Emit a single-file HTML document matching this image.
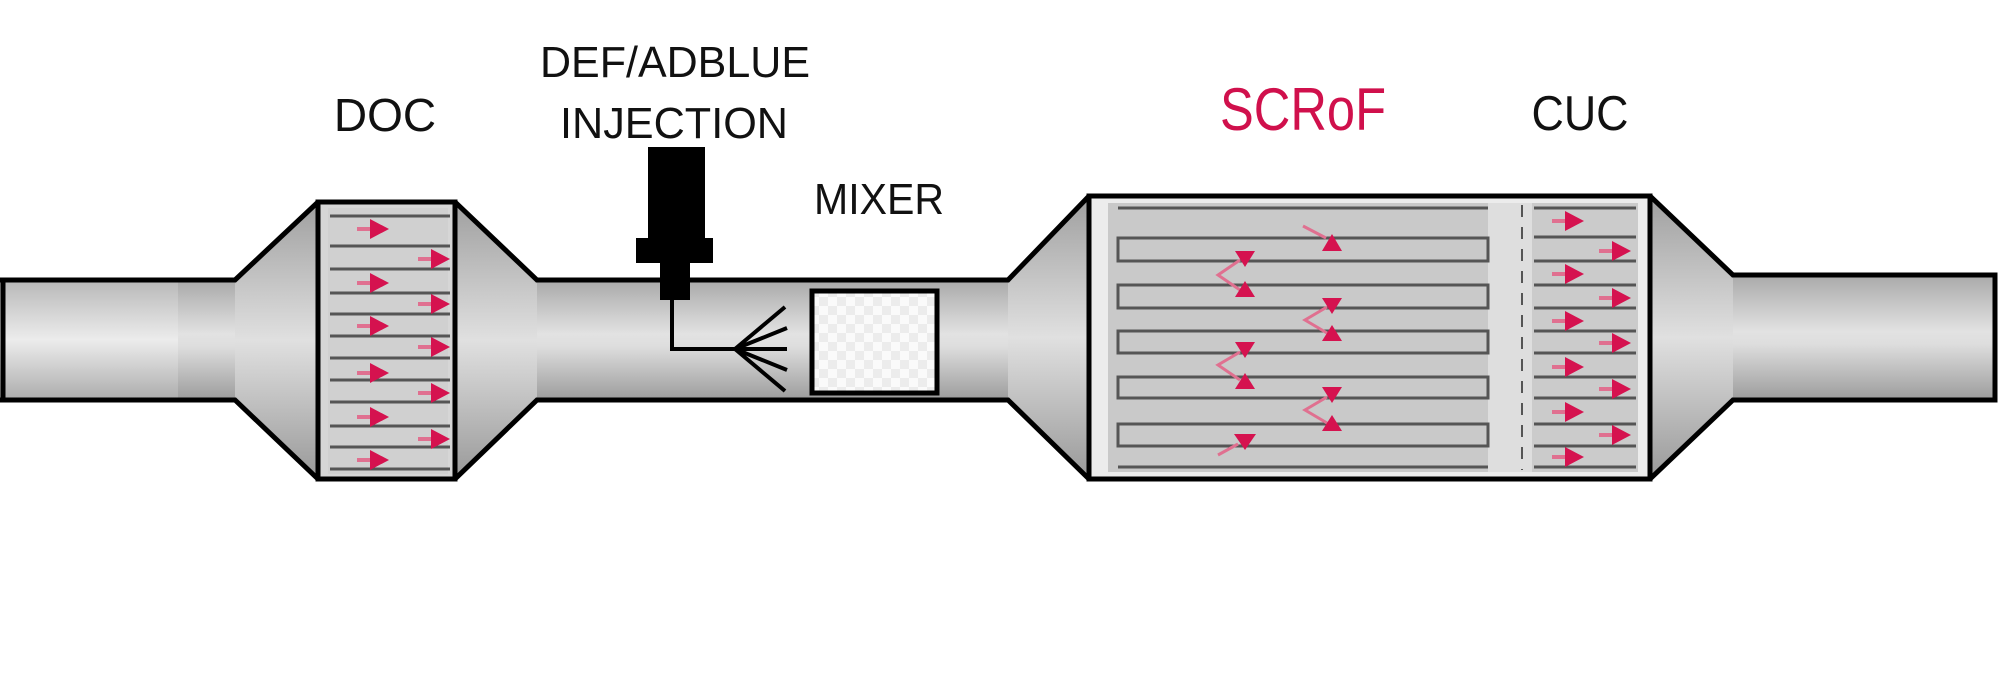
<!DOCTYPE html>
<html><head><meta charset="utf-8"><style>
html,body{margin:0;padding:0;background:#fff;width:2000px;height:681px;overflow:hidden}
svg{display:block}
text{font-family:"Liberation Sans",sans-serif}
</style></head><body>
<svg width="2000" height="681" viewBox="0 0 2000 681" xmlns="http://www.w3.org/2000/svg">
<defs>
<linearGradient id="pg" x1="0" y1="0" x2="0" y2="1">
<stop offset="0" stop-color="#a9a9a9"/><stop offset="0.45" stop-color="#e2e2e2"/><stop offset="0.55" stop-color="#dedede"/><stop offset="1" stop-color="#9c9c9c"/></linearGradient>
<linearGradient id="pg2" x1="0" y1="0" x2="0" y2="1">
<stop offset="0" stop-color="#b8b8b8"/><stop offset="0.5" stop-color="#ececec"/><stop offset="1" stop-color="#acacac"/></linearGradient>
<linearGradient id="cg" x1="0" y1="0" x2="0" y2="1">
<stop offset="0" stop-color="#9f9f9f"/><stop offset="0.5" stop-color="#e0e0e0"/><stop offset="1" stop-color="#999"/></linearGradient>
<pattern id="chk" width="18" height="18" patternUnits="userSpaceOnUse">
<rect width="18" height="18" fill="#fafafa"/><rect width="9" height="9" fill="#ececec"/><rect x="9" y="9" width="9" height="9" fill="#ececec"/></pattern>
<g id="ar"><line x1="-32" y1="0" x2="-14" y2="0" stroke="#e07090" stroke-width="4"/><polygon points="-19,-10 0,0 -19,10" fill="#d5124f"/></g>
</defs>
<rect x="0" y="280" width="2000" height="120" fill="url(#pg)"/>
<rect x="0" y="280" width="178" height="120" fill="url(#pg2)"/>
<polygon points="235,280 318,202 318,479 235,400" fill="url(#cg)"/>
<polygon points="455,202 537,280 537,400 455,479" fill="url(#cg)"/>
<polygon points="1008,280 1089,196 1089,479 1008,400" fill="url(#cg)"/>
<polygon points="1650,196 1733,275 1733,400 1650,479" fill="url(#cg)"/>
<rect x="1733" y="275" width="262" height="125" fill="url(#pg)"/>
<rect x="1995" y="270" width="5" height="135" fill="#fff"/>
<g fill="none" stroke="#000" stroke-width="5">
<polyline points="0,280 235,280 318,202 455,202 537,280 1008,280 1089,196 1650,196 1733,275 1995,275 1995,400 1733,400 1650,479 1089,479 1008,400 537,400 455,479 318,479 235,400 0,400"/>
<line x1="3" y1="280" x2="3" y2="400"/>
</g>
<rect x="318" y="202" width="137" height="277" fill="#d6d6d6" stroke="#000" stroke-width="5"/>
<rect x="328" y="208" width="120" height="266" fill="#d0d0d0"/>
<g stroke="#555" stroke-width="3">
<line x1="330" y1="216" x2="450" y2="216"/><line x1="330" y1="246" x2="450" y2="246"/>
<line x1="330" y1="269" x2="450" y2="269"/><line x1="330" y1="293" x2="450" y2="293"/>
<line x1="330" y1="314" x2="450" y2="314"/><line x1="330" y1="336" x2="450" y2="336"/>
<line x1="330" y1="358" x2="450" y2="358"/><line x1="330" y1="380" x2="450" y2="380"/>
<line x1="330" y1="402" x2="450" y2="402"/><line x1="330" y1="426" x2="450" y2="426"/>
<line x1="330" y1="447" x2="450" y2="447"/><line x1="330" y1="469" x2="450" y2="469"/>
</g>
<g>
<use href="#ar" x="389" y="229"/><use href="#ar" x="389" y="283"/><use href="#ar" x="389" y="326"/>
<use href="#ar" x="389" y="373"/><use href="#ar" x="389" y="417"/><use href="#ar" x="389" y="460"/>
<use href="#ar" x="450" y="259"/><use href="#ar" x="450" y="304"/><use href="#ar" x="450" y="347"/>
<use href="#ar" x="450" y="393"/><use href="#ar" x="450" y="439"/>
</g>
<rect x="648" y="147" width="57" height="91" fill="#000"/>
<rect x="636" y="238" width="77" height="25" fill="#000"/>
<rect x="660" y="262" width="30" height="38" fill="#000"/>
<g stroke="#000" stroke-width="4" fill="none">
<polyline points="672,300 672,349 735,349"/>
<line x1="735" y1="349" x2="785" y2="307"/><line x1="735" y1="349" x2="787" y2="328"/>
<line x1="735" y1="349" x2="787" y2="349"/><line x1="735" y1="349" x2="787" y2="370"/>
<line x1="735" y1="349" x2="785" y2="391"/>
</g>
<rect x="812" y="291" width="125" height="102" fill="url(#chk)" stroke="#000" stroke-width="5"/>
<rect x="1089" y="196" width="561" height="283" fill="#ececec" stroke="#000" stroke-width="5"/>
<rect x="1108" y="203" width="380" height="269" fill="#c9c9c9"/>
<rect x="1488" y="203" width="44" height="269" fill="#dedede"/>
<rect x="1532" y="203" width="106" height="269" fill="#cbcbcb"/>
<line x1="1522" y1="205" x2="1522" y2="470" stroke="#555" stroke-width="2" stroke-dasharray="12,10"/>
<g stroke="#555" stroke-width="3" fill="none">
<line x1="1118" y1="208" x2="1488" y2="208"/>
<rect x="1118" y="238" width="370" height="23"/>
<rect x="1118" y="285" width="370" height="23"/>
<rect x="1118" y="331" width="370" height="22"/>
<rect x="1118" y="377" width="370" height="21"/>
<rect x="1118" y="424" width="370" height="22"/>
<line x1="1118" y1="467" x2="1488" y2="467"/>
</g>
<g stroke="#555" stroke-width="3">
<line x1="1534" y1="208" x2="1636" y2="208"/><line x1="1534" y1="237" x2="1636" y2="237"/>
<line x1="1534" y1="261" x2="1636" y2="261"/><line x1="1534" y1="285" x2="1636" y2="285"/>
<line x1="1534" y1="308" x2="1636" y2="308"/><line x1="1534" y1="331" x2="1636" y2="331"/>
<line x1="1534" y1="353" x2="1636" y2="353"/><line x1="1534" y1="377" x2="1636" y2="377"/>
<line x1="1534" y1="398" x2="1636" y2="398"/><line x1="1534" y1="424" x2="1636" y2="424"/>
<line x1="1534" y1="446" x2="1636" y2="446"/><line x1="1534" y1="467" x2="1636" y2="467"/>
</g>
<g>
<use href="#ar" x="1584" y="221"/><use href="#ar" x="1584" y="274"/><use href="#ar" x="1584" y="321"/>
<use href="#ar" x="1584" y="367"/><use href="#ar" x="1584" y="412"/><use href="#ar" x="1584" y="457"/>
<use href="#ar" x="1631" y="251"/><use href="#ar" x="1631" y="298"/><use href="#ar" x="1631" y="343"/>
<use href="#ar" x="1631" y="389"/><use href="#ar" x="1631" y="435"/>
</g>
<g stroke="#e07090" stroke-width="3" fill="none">
<line x1="1303" y1="226" x2="1326" y2="238"/>
<polyline points="1240,260 1218,275 1240,290"/>
<polyline points="1327,307 1305,320 1327,333"/>
<polyline points="1240,352 1218,365 1240,380"/>
<polyline points="1327,397 1305,410 1327,423"/>
<line x1="1218" y1="455" x2="1238" y2="444"/>
</g>
<g fill="#d5124f">
<polygon points="1322,251 1342,251 1332,234"/>
<polygon points="1235,251 1255,251 1245,267"/><polygon points="1235,297 1255,297 1245,281"/>
<polygon points="1322,298 1342,298 1332,314"/><polygon points="1322,341 1342,341 1332,325"/>
<polygon points="1235,342 1255,342 1245,358"/><polygon points="1235,389 1255,389 1245,373"/>
<polygon points="1322,387 1342,387 1332,403"/><polygon points="1322,431 1342,431 1332,415"/>
<polygon points="1234,434 1256,434 1245,450"/>
</g>
<text x="385" y="131" font-size="46" text-anchor="middle" fill="#111">DOC</text>
<text x="675" y="77" font-size="44" text-anchor="middle" fill="#111" textLength="270" lengthAdjust="spacingAndGlyphs">DEF/ADBLUE</text>
<text x="674" y="138" font-size="44" text-anchor="middle" fill="#111" textLength="228" lengthAdjust="spacingAndGlyphs">INJECTION</text>
<text x="879" y="214" font-size="44" text-anchor="middle" fill="#111" textLength="130" lengthAdjust="spacingAndGlyphs">MIXER</text>
<text x="1303" y="130" font-size="60" text-anchor="middle" fill="#d0104c" textLength="166" lengthAdjust="spacingAndGlyphs">SCRoF</text>
<text x="1580" y="130" font-size="49" text-anchor="middle" fill="#111" textLength="97" lengthAdjust="spacingAndGlyphs">CUC</text>
</svg>
</body></html>
